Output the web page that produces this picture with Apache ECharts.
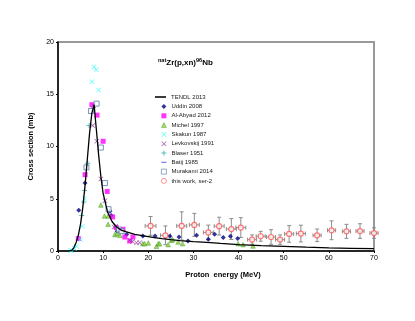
<!DOCTYPE html>
<html>
<head>
<meta charset="utf-8">
<script src="https://cdn.jsdelivr.net/npm/echarts@6/dist/echarts.min.js"></script>
<style>
  html, body { margin: 0; padding: 0; background: #fff; }
  #main { width: 415px; height: 321px; }
</style>
</head>
<body>
<div id="main"></div>
<script>
// x ticks / y ticks
var xTicks = [0, 10, 20, 30, 40, 50, 60, 70];
var yTicks = [0, 5, 10, 15, 20];

// TENDL 2013 curve [E, sigma]
var tendl = [[2.5,0],[3,0.05],[3.5,0.3],[4,0.8],[4.5,1.5],[5,2.6],[5.5,4.2],[6,6.3],[6.5,8.8],[7,11.3],[7.5,13.2],[8,14.0],
  [8.5,11.6],[9,9.2],[9.5,7.1],[10,5.5],[11,3.7],[12,2.8],[13,2.3],[14,2.0],[15,1.85],[17,1.6],[19,1.45],[21,1.3],
  [23,1.18],[25,1.08],[27,1.0],[30,0.9],[33,0.82],[36,0.72],[40,0.61],[45,0.52],[50,0.45],[55,0.37],[60,0.3],[65,0.26],[70,0.22]];

var uddin = [[4.6,3.9],[6.0,6.5],[11.5,3.8],[11.8,3.4],[13.1,1.9],[15.2,1.57],[18.8,1.44],[21.5,1.44],[24.8,1.41],
  [26.8,1.34],[28.8,0.96],[30.7,1.5],[33.3,1.12],[34.7,1.6],[36.6,1.28],[38.2,1.41],[39.8,1.19]];
var alAbyad = [[4.5,1.19],[6.0,7.3],[7.5,14.0],[8.65,13.0],[10.0,10.5],[10.9,5.7],[12.1,3.26],[12.9,2.24],[14.4,2.08],
  [14.8,1.34],[15.9,0.96],[16.6,1.34]];
var michel = [[9.5,4.4],[10.3,3.35],[11.1,2.55],[11.1,3.35],[12.6,1.57],[13.1,1.66],[13.7,1.5],[18.8,0.7],[19.2,0.7],
  [20,0.77],[21.8,0.45],[22.2,0.7],[22.5,0.7],[24.4,0.61],[25.1,1.02],[25.4,1.09],[26.6,0.86],[27.6,0.7],
  [39.9,0.7],[41,0.61],[43.2,0.48]];
var skakun = [[2.8,0.05],[3.0,0.07],[3.6,0.23],[4.1,0.45],[5.0,1.09],[5.4,2.36],[5.85,5.0],[7.5,16.2],[7.98,17.6],
  [8.5,17.35],[9.0,15.4]];
var levkovskij = [[7.7,12.0],[7.9,13.9],[8.6,10.5],[9.5,6.9],[10.4,4.8],[12.4,2.3],[12.8,2.36],[15.9,1.02],
  [16.5,0.9],[17.4,0.8],[18.1,0.8]];
var blaser = [[5.25,3.4],[5.7,4.7],[5.9,5.8],[6.6,8.4],[6.9,12.0]];
var batij = [];
var murakami = [[6.3,8.0],[7.3,13.4],[8.55,14.1],[9.5,9.9],[10.4,6.5],[11.2,4.0],[13.5,2.05],[14.1,1.9]];

// this work: energy, cross section, sigma error, energy error
var thisE = [20.5, 23.8, 27.4, 30.2, 33.3, 35.7, 38.4, 40.5, 43.0, 44.9, 47.2, 49.2, 51.2, 53.8, 57.4, 60.6, 63.9, 66.9, 70.0];
var thisS = [2.4, 1.5, 2.4, 2.5, 1.78, 2.38, 2.1, 2.24, 1.09, 1.41, 1.34, 1.09, 1.63, 1.67, 1.5, 1.98, 1.88, 1.91, 1.72];
var thisErrS = [0.9, 0.9, 1.35, 1.1, 0.7, 0.85, 1.0, 0.95, 0.45, 0.47, 0.7, 0.45, 0.8, 0.8, 0.6, 0.9, 0.67, 0.7, 0.5];
var thisErrE = [1.2, 1.1, 1.1, 1.1, 1.1, 1.1, 1.1, 1.1, 1.0, 1.0, 1.0, 1.0, 1.0, 1.0, 0.9, 0.9, 0.9, 0.9, 0.9];

var FONT = 'Liberation Sans, Arial, sans-serif';
var X_PATH = 'path://M0,1L1,0L5,4L9,0L10,1L6,5L10,9L9,10L5,6L1,10L0,9L4,5Z';
var PLUS_PATH = 'path://M4,0H6V4H10V6H6V10H4V6H0V4H4Z';
var DASH_PATH = 'path://M0,4H10V6H0Z';
var LINE_PATH = 'path://M0,0H10V1.4H0Z';

var thisWork = thisE.map(function (e, i) { return [e, thisS[i]]; });
var errData = thisE.map(function (e, i) { return [e, thisS[i], thisErrS[i], thisErrE[i]]; });

function errBars(params, api) {
  var x = api.value(0), y = api.value(1), ey = api.value(2), ex = api.value(3);
  var top = api.coord([x, y + ey]), bot = api.coord([x, y - ey]);
  var l = api.coord([x - ex, y]), r = api.coord([x + ex, y]);
  var cap = 2;
  var st = { stroke: '#8c8c8c', lineWidth: 1 };
  function ln(x1, y1, x2, y2) { return { type: 'line', shape: { x1: x1, y1: y1, x2: x2, y2: y2 }, style: st }; }
  return {
    type: 'group',
    children: [
      ln(top[0], top[1], bot[0], bot[1]),
      ln(top[0] - cap, top[1], top[0] + cap, top[1]),
      ln(bot[0] - cap, bot[1], bot[0] + cap, bot[1]),
      ln(l[0], l[1], r[0], r[1]),
      ln(l[0], l[1] - cap, l[0], l[1] + cap),
      ln(r[0], r[1] - cap, r[0], r[1] + cap)
    ]
  };
}

var legendText = { fontSize: 6, color: '#222', fontFamily: FONT, lineHeight: 6 };

var chart = echarts.init(document.getElementById('main'), null, { renderer: 'canvas' });
chart.setOption({
  backgroundColor: '#ffffff',
  animation: false,
  textStyle: { fontFamily: FONT },
  title: {
    left: 153,
    top: 52,
    text: '{s|nat}{b|Zr(p,xn)}{s|96}{b|Nb}',
    textStyle: {
      rich: {
        b: { fontSize: 8, fontFamily: FONT, color: '#000', lineHeight: 11 },
        s: { fontSize: 5.5, fontFamily: FONT, color: '#000', verticalAlign: 'top', lineHeight: 11, fontWeight: 'bold' }
      }
    }
  },
  legend: [{
    orient: 'vertical',
    left: 150,
    top: 89,
    itemWidth: 11,
    itemHeight: 6,
    textStyle: legendText,
    data: [{ name: 'TENDL 2013', icon: LINE_PATH, itemStyle: { color: '#000' } }]
  }, {
    orient: 'vertical',
    left: 156,
    top: 98.5,
    itemWidth: 5,
    itemHeight: 5,
    itemGap: 3.3,
    textStyle: legendText,
    data: ['Uddin 2008', 'Al-Abyad 2012',
      { name: 'Michel 1997', itemStyle: { borderWidth: 0.5 } },
      'Skakun 1987', 'Levkovskij 1991', 'Blaser 1951', 'Batij 1985',
      { name: 'Murakami 2014', itemStyle: { borderWidth: 0.8 } },
      { name: 'this work, ser-2', itemStyle: { borderWidth: 0.8 } }]
  }],
  grid: {
    left: 58, right: 41, top: 42, bottom: 70,
    show: true, borderColor: '#999', borderWidth: 2,
    outerBoundsMode: 'none'
  },
  xAxis: {
    type: 'value', min: 0, max: 70, interval: 10,
    name: 'Proton  energy (MeV)', nameLocation: 'middle', nameGap: 20,
    nameTextStyle: { fontSize: 7.5, fontWeight: 'bold', color: '#000', padding: [0, 0, 0, 14] },
    axisLine: { lineStyle: { color: '#000', width: 1.5 } },
    axisTick: { show: true, length: 2, lineStyle: { color: '#000' } },
    axisLabel: { fontSize: 7, color: '#000', margin: 4, customValues: xTicks },
    splitLine: { show: false }
  },
  yAxis: {
    type: 'value', min: 0, max: 20, interval: 5,
    name: 'Cross section (mb)', nameLocation: 'middle', nameGap: 15,
    nameTextStyle: { fontSize: 7.5, fontWeight: 'bold', color: '#000' },
    axisLine: { show: true, lineStyle: { color: '#000', width: 1.5 } },
    axisTick: { show: true, length: 2, lineStyle: { color: '#000' } },
    axisLabel: { fontSize: 7, color: '#000', margin: 4, customValues: yTicks },
    splitLine: { show: false }
  },
  series: [
    { name: 'this work err', type: 'custom', renderItem: errBars, data: errData, z: 1, silent: true },
    { name: 'Uddin 2008', type: 'scatter', data: uddin, symbol: 'diamond', symbolSize: 5,
      itemStyle: { color: '#000080' } },
    { name: 'Al-Abyad 2012', type: 'scatter', data: alAbyad, symbol: 'rect', symbolSize: 5,
      itemStyle: { color: '#ff00ff' } },
    { name: 'Michel 1997', type: 'scatter', data: michel, symbol: 'triangle', symbolSize: 4.5,
      itemStyle: { color: '#99cc33', borderColor: '#339933', borderWidth: 0.6 } },
    { name: 'Skakun 1987', type: 'scatter', data: skakun, symbol: X_PATH, symbolSize: 5,
      itemStyle: { color: '#33ffff' } },
    { name: 'Levkovskij 1991', type: 'scatter', data: levkovskij, symbol: X_PATH, symbolSize: 5,
      itemStyle: { color: '#993399' } },
    { name: 'Blaser 1951', type: 'scatter', data: blaser, symbol: PLUS_PATH, symbolSize: 5,
      itemStyle: { color: '#33aaaa' } },
    { name: 'Batij 1985', type: 'scatter', data: batij, symbol: DASH_PATH, symbolSize: 5,
      itemStyle: { color: '#3333ff' } },
    { name: 'Murakami 2014', type: 'scatter', data: murakami, symbol: 'rect', symbolSize: 5,
      itemStyle: { color: '#ffffff', borderColor: '#5577aa', borderWidth: 1 } },
    { name: 'this work, ser-2', type: 'scatter', data: thisWork, symbol: 'circle', symbolSize: 5, z: 3,
      itemStyle: { color: '#ffffff', borderColor: '#ff5555', borderWidth: 1.2 } },
    { name: 'TENDL 2013', type: 'line', data: tendl, symbol: 'none', smooth: false, z: 4,
      lineStyle: { color: '#000', width: 1.3 }, itemStyle: { color: '#000' } }
  ]
});
</script>
</body>
</html>
